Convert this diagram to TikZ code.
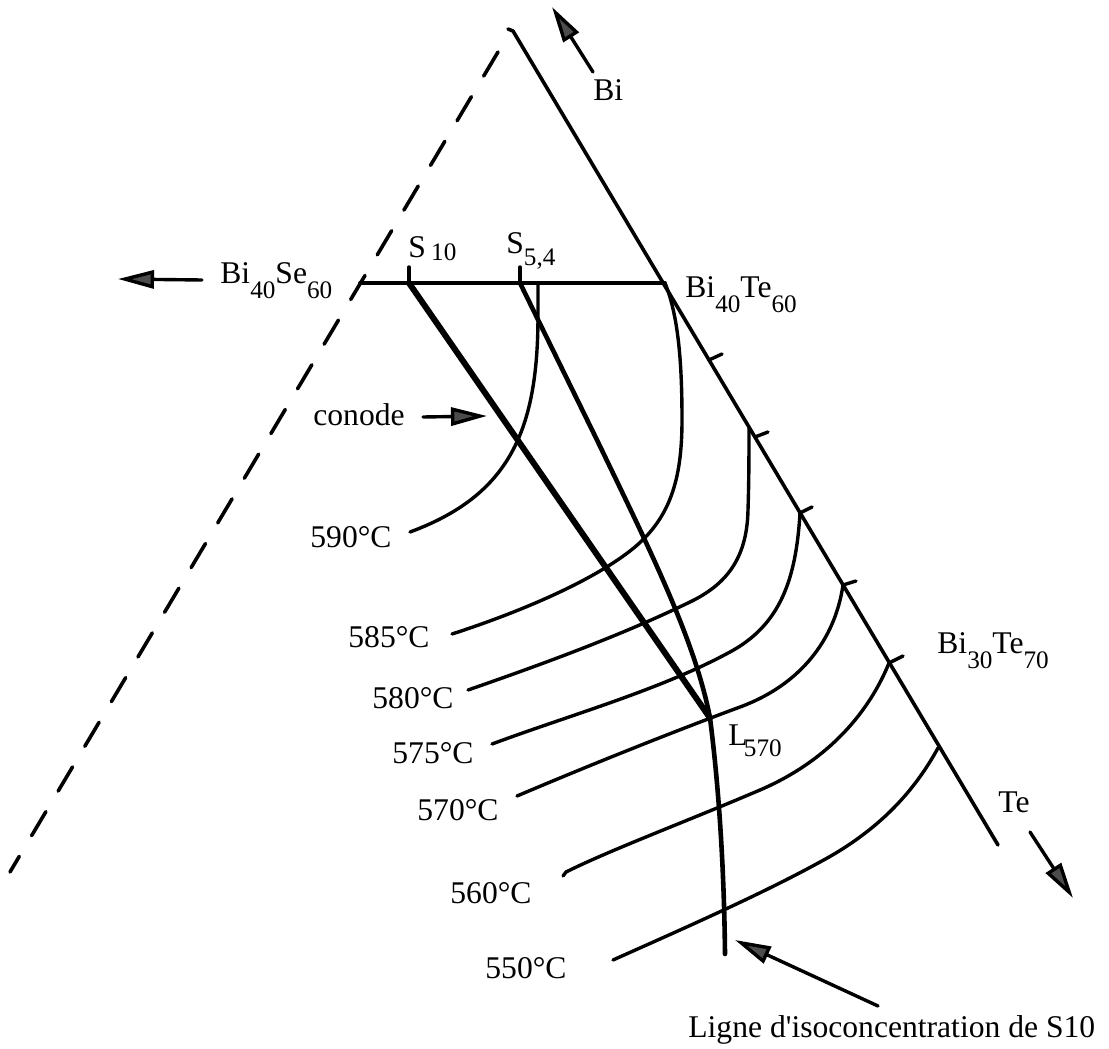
\documentclass[tikz,border=0pt]{standalone}
\usepackage{fontspec}
\setmainfont{Liberation Serif}
\usetikzlibrary{arrows.meta}
\newcommand\lowsub[2][0.5em]{\raisebox{-#1}{\fontsize{12.6}{13}\selectfont #2}}
\begin{document}
\begin{tikzpicture}[x=0.5pt,y=-0.5pt,line cap=round,line join=round,
  ln/.style={line width=1.8pt},
  thickln/.style={line width=3pt},
  isoln/.style={line width=2.3pt},
  curve/.style={line width=1.7pt},
  lbl/.style={anchor=base west,inner sep=0pt,font=\fontsize{15.8}{19}\selectfont},
  arr/.style={line width=1.7pt,-{Triangle[length=18pt,width=9pt,fill=black!70]}},
  ticky/.style={line width=1.7pt}]
\useasboundingbox (0,0) rectangle (1109,1049);

% triangle sides
\draw[ln,dash pattern=on 14pt off 12pt] (498,52) -- (10,872);
\draw[ln] (508,29) -- (513,31) -- (998,845);
\draw[ln] (360,283) -- (665,283);

% ticks on the Bi-Te side
\draw[ticky] (709,360) -- (722,354);
\draw[ticky] (755,437) -- (768,432);
\draw[ticky] (800,513) -- (812,507);
\draw[ticky] (843,585) -- (856,581);
\draw[ticky] (889,663) -- (903,656);

% S ticks
\draw[ticky] (409,267) -- (409,283);
\draw[ticky] (520,267) -- (520,283);

% isotherms
\draw[curve] (538,283) -- (538,315) .. controls (538,430) and (510,495) .. (410,532);
\draw[curve] (665,283) .. controls (678,315) and (682,360) .. (682,420)
  .. controls (682,480) and (670,520) .. (630,551)
  .. controls (590,582) and (520,612) .. (452,634);
\draw[curve] (749,427) .. controls (749,450) and (749,480) .. (748,510)
  .. controls (747,560) and (725,585) .. (690,602)
  .. controls (620,636) and (540,665) .. (468,690);
\draw[curve] (800,513) .. controls (796,580) and (780,625) .. (730,652)
  .. controls (660,690) and (570,715) .. (492,744);
\draw[curve] (843,585) .. controls (835,640) and (800,685) .. (740,707)
  .. controls (670,733) and (590,765) .. (517,796);
\draw[curve] (889,663) .. controls (870,710) and (830,760) .. (760,790)
  .. controls (690,820) and (610,850) .. (566,872) -- (563,876);
\draw[curve] (938,748) .. controls (915,790) and (880,830) .. (820,862)
  .. controls (760,895) and (680,930) .. (613,960);

% conode and isoconcentration line
\draw[thickln] (409,283) -- (710,718);
\draw[isoln] (520,283) -- (597,440) .. controls (650,550) and (695,640) .. (710,718)
  .. controls (718,780) and (724,860) .. (725,954);

% labels
\node[lbl] (bise) at (220,283) {Bi\lowsub{40}Se\lowsub{60}};
\node[lbl] (bite) at (685,297) {Bi\lowsub{40}Te\lowsub{60}};
\node[lbl] (bite2) at (937,653) {Bi\lowsub{30}Te\lowsub{70}};
\node[lbl] (te) at (998,812) {Te};
\node[lbl] (bi) at (593,100) {Bi};
\node[lbl] (conode) at (313,425) {conode};
\node[lbl] (s10) at (408,257) {S\,\lowsub[0.12em]{10}};
\node[lbl] (s54) at (506,253) {S\lowsub[0.4em]{5,4}};
\node[lbl] (l570) at (728,745) {L\kern-0.12em\lowsub[0.35em]{570}};
\node[lbl] (t590) at (310,547) {590°C};
\node[lbl] (t585) at (348,647) {585°C};
\node[lbl] (t580) at (372,708) {580°C};
\node[lbl] (t575) at (392,763) {575°C};
\node[lbl] (t570) at (417,820) {570°C};
\node[lbl] (t560) at (450,903) {560°C};
\node[lbl] (t550) at (485,978) {550°C};
\node[lbl] (ligne) at (688,1037) {Ligne d\textquotesingle isoconcentration de S10};

% arrows
\coordinate (a1s) at (202,280); \coordinate (a1e) at (118,279);
\coordinate (a2s) at (593,72);  \coordinate (a2e) at (552,7);
\coordinate (a3s) at (423,417); \coordinate (a3e) at (487,416);
\coordinate (a4s) at (1030,832); \coordinate (a4e) at (1073,898);
\coordinate (a5s) at (878,1006); \coordinate (a5e) at (735,940);
\draw[arr] (a1s) -- (a1e);
\draw[arr] (a2s) -- (a2e);
\draw[arr] (a3s) -- (a3e);
\draw[arr] (a4s) -- (a4e);
\draw[arr] (a5s) -- (a5e);
\end{tikzpicture}
\end{document}
